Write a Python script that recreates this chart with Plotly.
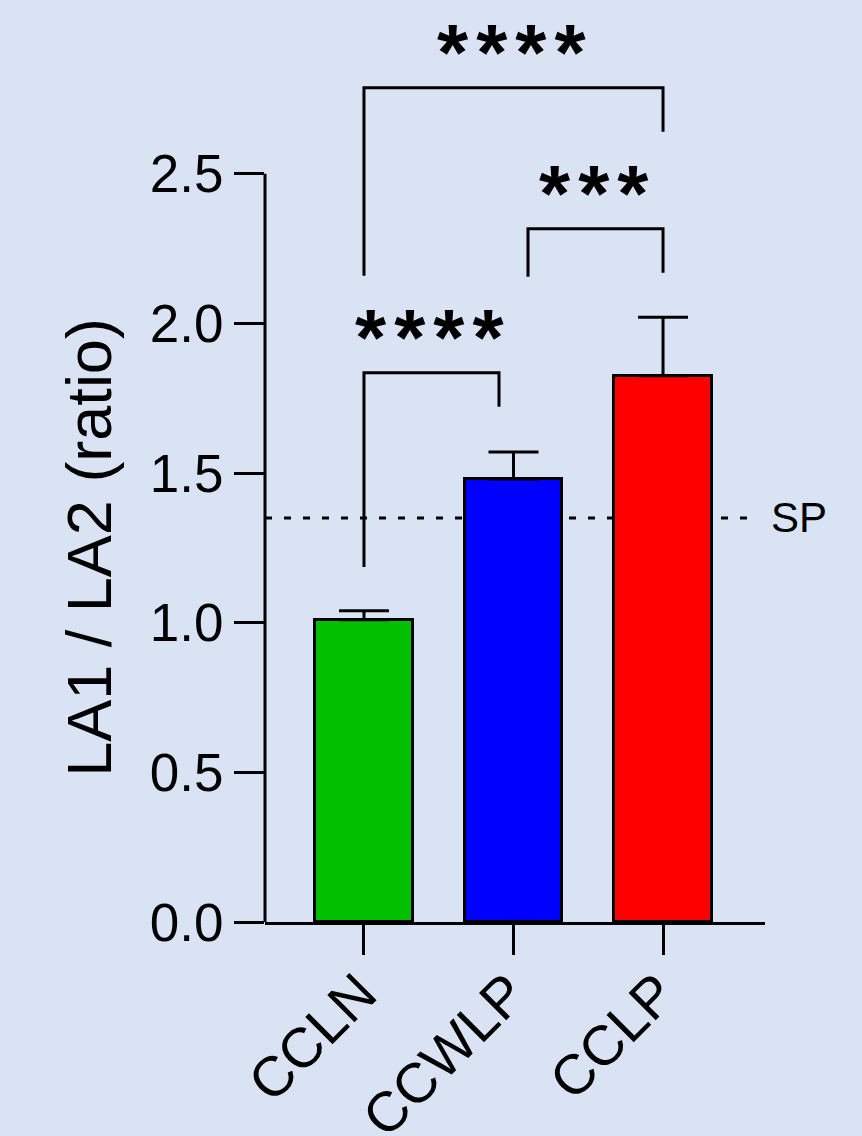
import plotly.graph_objects as go

# ---- data ----
categories = ["CCLN", "CCWLP", "CCLP"]
means = [1.01, 1.48, 1.825]
errors_up = [0.03, 0.09, 0.195]
bar_colors = ["#00c000", "#0000ff", "#ff0000"]

y_tick_values = [0.0, 0.5, 1.0, 1.5, 2.0, 2.5]
y_tick_labels = ["0.0", "0.5", "1.0", "1.5", "2.0", "2.5"]

sp_value = 1.35
sp_label = "SP"

comparison_pairs = [("CCLN", "CCLP"), ("CCWLP", "CCLP"), ("CCLN", "CCWLP")]
significance = ["****", "***", "****"]

# ---- style / layout ----
BG = "#dae3f3"
FONT = "Arial, Liberation Sans, Helvetica, sans-serif"
LW = 3

# bracket geometry per comparison: x offset of left/right legs (category units),
# height of the bar across the top, and where each leg ends
bracket_geom = [
    dict(dx0=0.0, dx1=0.0, top=2.787, left_end=2.159, right_end=2.640),
    dict(dx0=0.097, dx1=0.0, top=2.316, left_end=2.156, right_end=2.169),
    dict(dx0=0.0, dx1=-0.097, top=1.835, left_end=1.186, right_end=1.721),
]

fig = go.Figure()

fig.add_trace(go.Bar(
    x=list(range(len(categories))),
    y=means,
    width=0.65,
    marker=dict(color=bar_colors, line=dict(color="black", width=LW)),
    error_y=dict(type="data", array=errors_up, arrayminus=[0] * len(errors_up),
                 symmetric=False, color="black", thickness=LW, width=25),
    showlegend=False,
))

shapes = []
# y axis line stops at the top tick
shapes.append(dict(type="line", xref="x domain", yref="y", x0=0, x1=0,
                   y0=0, y1=y_tick_values[-1], line=dict(color="black", width=LW)))
# reference level
shapes.append(dict(type="line", xref="x domain", yref="y", x0=0, x1=0.985,
                   y0=sp_value, y1=sp_value, layer="below",
                   line=dict(color="black", width=LW, dash="7px,12px")))

annotations = []
for (a, b), lab, g in zip(comparison_pairs, significance, bracket_geom):
    x0 = categories.index(a) + g["dx0"]
    x1 = categories.index(b) + g["dx1"]
    path = (f"M {x0},{g['left_end']} L {x0},{g['top']} "
            f"L {x1},{g['top']} L {x1},{g['right_end']}")
    shapes.append(dict(type="path", xref="x", yref="y", path=path,
                       line=dict(color="black", width=LW)))
    annotations.append(dict(
        x=(x0 + x1) / 2, y=g["top"], xref="x", yref="y", xshift=2,
        text=f'<span style="letter-spacing:8px">{lab}</span>',
        showarrow=False, xanchor="center", yanchor="bottom", yshift=-11,
        font=dict(family=FONT, size=80, color="black", weight="bold"),
    ))

annotations.append(dict(
    x=1, xref="paper", y=sp_value, yref="y", text=sp_label, showarrow=False,
    xanchor="left", yanchor="middle", xshift=4,
    font=dict(family=FONT, size=42, color="black"),
))
annotations.append(dict(
    x=0, xref="paper", xshift=-176, y=1.25, yref="y",
    text="LA1 / LA2 (ratio)", textangle=-90, showarrow=False,
    xanchor="center", yanchor="middle",
    font=dict(family=FONT, size=63, color="black"),
))

fig.update_layout(
    width=862, height=1136,
    margin=dict(l=265, r=97, t=24, b=214, autoexpand=False),
    paper_bgcolor=BG, plot_bgcolor=BG,
    shapes=shapes, annotations=annotations,
    bargap=0,
    xaxis=dict(
        range=[-0.662, 2.682], tickvals=list(range(len(categories))),
        ticktext=categories, tickangle=-45, automargin=False,
        ticklabelstandoff=-17, ticklabelshift=-4,
        showline=True, linecolor="black", linewidth=LW,
        ticks="outside", ticklen=30, tickwidth=LW, tickcolor="black",
        showgrid=False, zeroline=False,
        tickfont=dict(family=FONT, size=56, color="black"),
    ),
    yaxis=dict(
        range=[0, 3.0], tickvals=y_tick_values, ticktext=y_tick_labels,
        automargin=False,
        showline=False, ticks="outside", ticklen=30, tickwidth=LW,
        tickcolor="black", showgrid=False, zeroline=False,
        tickfont=dict(family=FONT, size=53, color="black"),
    ),
)

fig.write_html("out.html")
